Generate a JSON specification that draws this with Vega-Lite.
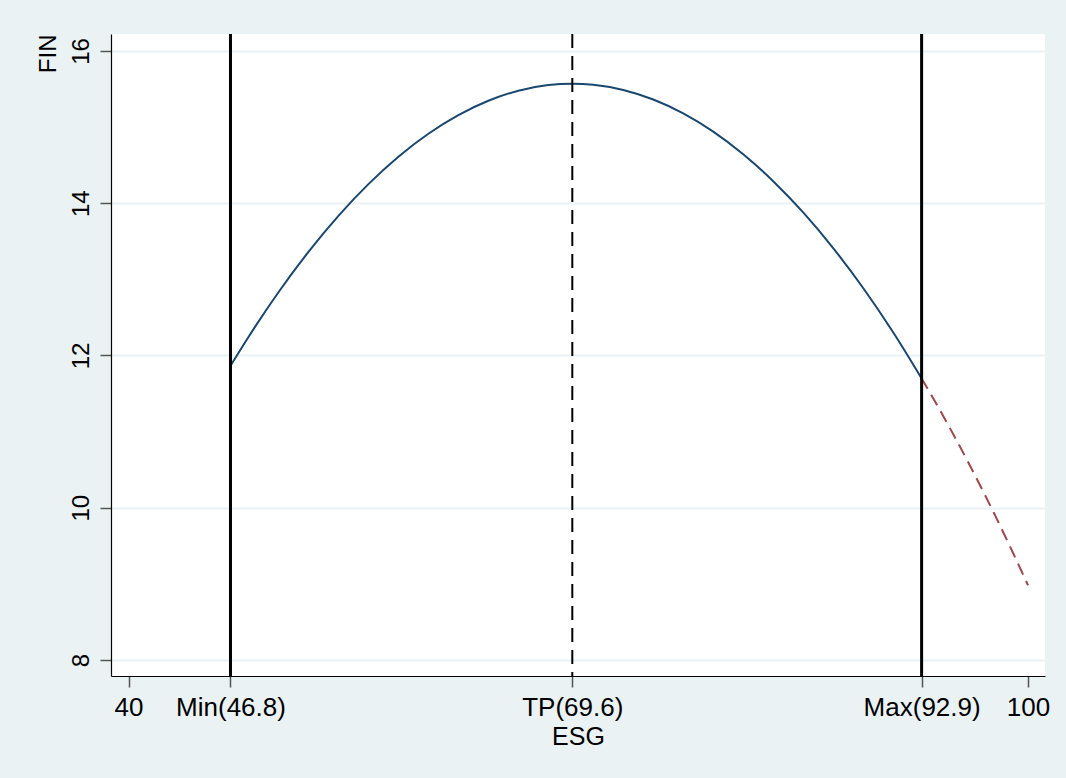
{
  "$schema": "https://vega.github.io/schema/vega-lite/v6.json",
  "width": 934,
  "height": 642,
  "autosize": {"type": "none"},
  "padding": {"left": 111, "top": 34, "right": 21, "bottom": 102},
  "background": "#EAF2F3",
  "config": {
    "view": {"stroke": null, "fill": "white"},
    "font": "Liberation Sans",
    "axis": {
      "labelFont": "Liberation Sans",
      "titleFont": "Liberation Sans",
      "labelColor": "#000000",
      "titleColor": "#000000",
      "titleFontWeight": "normal",
      "domainColor": "#000000",
      "domainWidth": 1.2,
      "tickColor": "#555555",
      "tickWidth": 1.5,
      "labelFlush": false,
      "labelOverlap": false,
      "labelBound": false
    }
  },
  "datasets": {
    "fit": [
      {"ESG": 46.8, "FIN": 11.864},
      {"ESG": 48, "FIN": 12.243},
      {"ESG": 50, "FIN": 12.831},
      {"ESG": 52, "FIN": 13.361},
      {"ESG": 54, "FIN": 13.835},
      {"ESG": 56, "FIN": 14.251},
      {"ESG": 58, "FIN": 14.611},
      {"ESG": 60, "FIN": 14.913},
      {"ESG": 62, "FIN": 15.158},
      {"ESG": 64, "FIN": 15.346},
      {"ESG": 66, "FIN": 15.478},
      {"ESG": 68, "FIN": 15.552},
      {"ESG": 69.6, "FIN": 15.57},
      {"ESG": 71, "FIN": 15.556},
      {"ESG": 73, "FIN": 15.488},
      {"ESG": 75, "FIN": 15.362},
      {"ESG": 77, "FIN": 15.18},
      {"ESG": 79, "FIN": 14.94},
      {"ESG": 81, "FIN": 14.643},
      {"ESG": 83, "FIN": 14.29},
      {"ESG": 85, "FIN": 13.879},
      {"ESG": 87, "FIN": 13.411},
      {"ESG": 89, "FIN": 12.887},
      {"ESG": 91, "FIN": 12.305},
      {"ESG": 92.9, "FIN": 11.699}
    ],
    "extrap": [
      {"ESG": 92.9, "FIN": 11.699},
      {"ESG": 94, "FIN": 11.325},
      {"ESG": 96, "FIN": 10.601},
      {"ESG": 98, "FIN": 9.819},
      {"ESG": 100, "FIN": 8.981}
    ],
    "bounds": [
      {"ESG": 46.8, "kind": "Min"},
      {"ESG": 92.9, "kind": "Max"}
    ],
    "tp": [
      {"ESG": 69.6, "kind": "TP"}
    ]
  },
  "layer": [
    {
      "data": {"name": "fit"},
      "mark": {"type": "line", "color": "#1a476f", "strokeWidth": 2, "interpolate": "monotone"},
      "encoding": {
        "x": {
          "field": "ESG",
          "type": "quantitative",
          "scale": {"domain": [38.83, 101.13], "nice": false, "zero": false},
          "axis": {
            "title": "ESG",
            "values": [40, 46.8, 69.6, 92.9, 100],
            "labelExpr": "datum.value == 40 ? '40' : datum.value == 100 ? '100' : datum.value < 50 ? 'Min(46.8)' : datum.value < 80 ? 'TP(69.6)' : 'Max(92.9)'",
            "labelFontSize": 26,
            "titleFontSize": 25,
            "tickSize": 11,
            "labelPadding": 7,
            "titlePadding": 4,
            "grid": false
          }
        },
        "y": {
          "field": "FIN",
          "type": "quantitative",
          "scale": {"domain": [7.79, 16.223], "nice": false, "zero": false},
          "axis": {
            "title": "FIN",
            "values": [8, 10, 12, 14, 16],
            "format": "d",
            "labelAngle": -90,
            "labelAlign": "center",
            "labelBaseline": "bottom",
            "labelFontSize": 24,
            "titleFontSize": 24,
            "titleAnchor": "end",
            "tickSize": 11,
            "labelPadding": 7,
            "titlePadding": 9,
            "grid": true,
            "gridColor": "#EAF2F3",
            "gridWidth": 2
          }
        }
      }
    },
    {
      "data": {"name": "extrap"},
      "mark": {"type": "line", "color": "#a0474d", "strokeWidth": 2, "strokeDash": [12, 7], "interpolate": "monotone"},
      "encoding": {
        "x": {"field": "ESG", "type": "quantitative"},
        "y": {"field": "FIN", "type": "quantitative"}
      }
    },
    {
      "data": {"name": "bounds"},
      "mark": {"type": "rule", "color": "#000000", "strokeWidth": 3},
      "encoding": {
        "x": {"field": "ESG", "type": "quantitative"}
      }
    },
    {
      "data": {"name": "tp"},
      "mark": {"type": "rule", "color": "#000000", "strokeWidth": 2, "strokeDash": [14, 8]},
      "encoding": {
        "x": {"field": "ESG", "type": "quantitative"}
      }
    }
  ]
}
